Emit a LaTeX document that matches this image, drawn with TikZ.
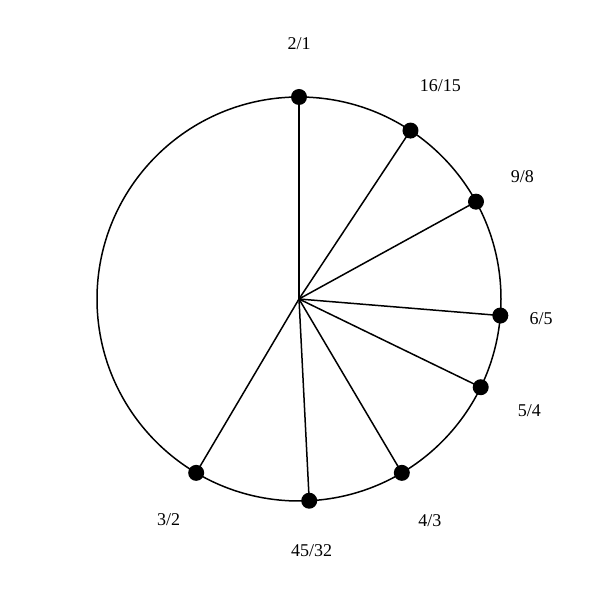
\documentclass[tikz,border=0pt]{standalone}
\usepackage{fontspec}
\setmainfont{Liberation Serif}
\usetikzlibrary{calc}
\begin{document}
\begin{tikzpicture}[x=1pt,y=1pt,
  spoke/.style={line width=1.5pt},
  dot/.style={circle,fill=black,inner sep=0pt,minimum size=16pt},
  lab/.style={font=\fontsize{18}{20}\selectfont,inner sep=0pt}]
\useasboundingbox (0,0) rectangle (600,600);
\coordinate (c) at (299,301);
\draw[spoke] (c) circle (202);
\foreach \name/\ang/\txt/\lr in {a/0/2\slash 1/255, b/33.5/16\slash 15/256, c2/61.2/9\slash 8/255, d/94.7/6\slash 5/243, e/115.9/5\slash 4/256, f/149.4/4\slash 3/257, g/177.1/45\slash 32/252, h/210.6/3\slash 2/256}{
  \node[dot] (p\name) at ($(c)+({90-\ang}:202)$) {};
  \draw[spoke] (c) -- (p\name.center);
  \node[lab] (l\name) at ($(c)+({90-\ang}:\lr)$) {\txt};
}
\end{tikzpicture}
\end{document}
